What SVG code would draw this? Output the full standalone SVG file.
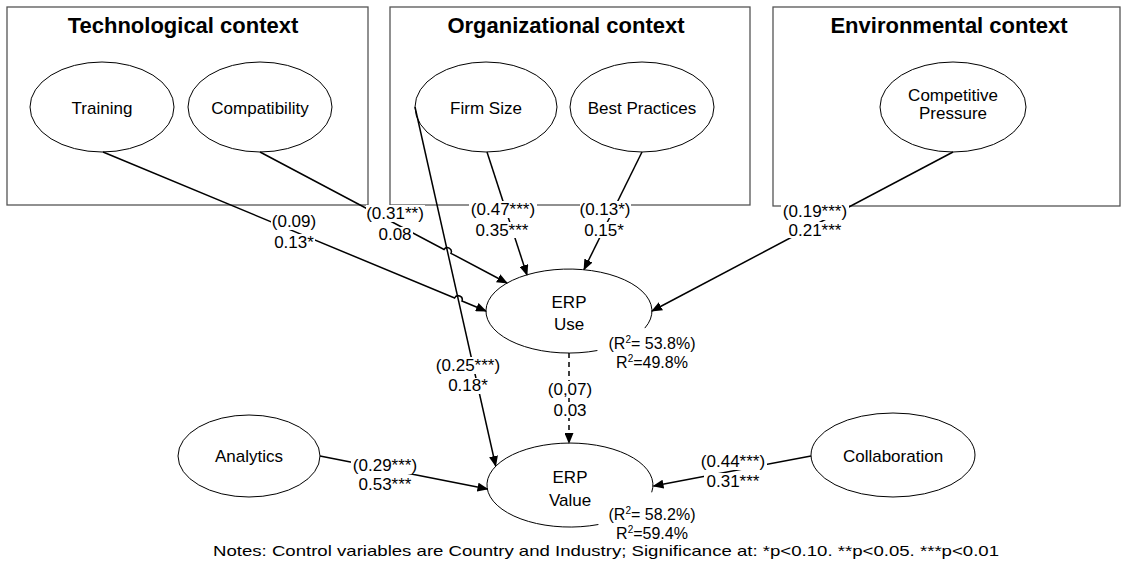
<svg xmlns="http://www.w3.org/2000/svg" width="1126" height="567" viewBox="0 0 1126 567">
  <style>
    .ctx { fill: #ffffff; stroke: #555555; stroke-width: 1.3; }
    .title { font-family: "Liberation Sans", Arial, sans-serif; font-size: 22px; font-weight: bold; text-anchor: middle; fill: #000; }
    .node { fill: #ffffff; stroke: #000000; stroke-width: 1; }
    .lbl { font-family: "Liberation Sans", Arial, sans-serif; font-size: 17px; text-anchor: middle; fill: #000; }
    .coef { font-family: "Liberation Sans", Arial, sans-serif; font-size: 17px; text-anchor: middle; fill: #000; }
    .r2 { font-family: "Liberation Sans", Arial, sans-serif; font-size: 16px; text-anchor: middle; fill: #000; }
    .note { font-family: "Liberation Sans", Arial, sans-serif; font-size: 15px; fill: #000; }
    .edge { fill: none; stroke: #000000; stroke-width: 1.5; }
    .dash { stroke-dasharray: 5 4; }
    .bg { fill: #ffffff; }
  </style>
  <defs>
    <marker id="arrow" markerUnits="userSpaceOnUse" markerWidth="11" markerHeight="9" refX="10" refY="4.5" orient="auto">
      <path d="M0,0 L11,4.5 L0,9 z" fill="#000000"/>
    </marker>
  </defs>

  <!-- context frames -->
  <g id="tech-context">
    <rect class="ctx" x="7" y="7" width="361" height="198"/>
    <text class="title" x="183" y="33">Technological context</text>
  </g>
  <g id="org-context">
    <rect class="ctx" x="390" y="7" width="360" height="198"/>
    <text class="title" x="566" y="33">Organizational context</text>
  </g>
  <g id="env-context">
    <rect class="ctx" x="773" y="7" width="347" height="199"/>
    <text class="title" x="949" y="33">Environmental context</text>
  </g>

  <!-- construct nodes -->
  <g id="training">
    <ellipse class="node" cx="102" cy="107" rx="72" ry="45"/>
    <text class="lbl" x="102" y="114">Training</text>
  </g>
  <g id="compatibility">
    <ellipse class="node" cx="260" cy="107" rx="72" ry="45"/>
    <text class="lbl" x="260" y="114">Compatibility</text>
  </g>
  <g id="firm-size">
    <ellipse class="node" cx="486" cy="107" rx="71" ry="45"/>
    <text class="lbl" x="486" y="114">Firm Size</text>
  </g>
  <g id="best-practices">
    <ellipse class="node" cx="642" cy="107" rx="72" ry="45"/>
    <text class="lbl" x="642" y="114">Best Practices</text>
  </g>
  <g id="competitive-pressure">
    <ellipse class="node" cx="953" cy="107" rx="73" ry="45"/>
    <text class="lbl" x="953" y="101">Competitive</text>
    <text class="lbl" x="953" y="119">Pressure</text>
  </g>
  <g id="analytics">
    <ellipse class="node" cx="249" cy="456" rx="71" ry="41"/>
    <text class="lbl" x="249" y="462">Analytics</text>
  </g>
  <g id="collaboration">
    <ellipse class="node" cx="893" cy="455" rx="82" ry="42"/>
    <text class="lbl" x="893" y="462">Collaboration</text>
  </g>
  <g id="erp-use">
    <path class="node" d="M597.4,350.5 A83,42 0 1 1 644.8,328.1"/>
    <text class="lbl" x="569" y="308">ERP</text>
    <text class="lbl" x="569" y="330">Use</text>
  </g>
  <g id="erp-value">
    <path class="node" d="M598.4,524.5 A83,42 0 1 1 651.7,492.3"/>
    <text class="lbl" x="570" y="483">ERP</text>
    <text class="lbl" x="570" y="506">Value</text>
  </g>

  <!-- paths between constructs -->
  <g id="connectors">
    <path class="edge" d="M103,152 L454.6,298 A4,4 0 0 1 462,301 L486,311" marker-end="url(#arrow)"/>
    <path class="edge" d="M260,152 L444,249.5 A4,4 0 0 1 451,253.3 L507,283" marker-end="url(#arrow)"/>
    <path class="edge" d="M487,152 L527,275" marker-end="url(#arrow)"/>
    <path class="edge" d="M642,152 L584,269.5" marker-end="url(#arrow)"/>
    <path class="edge" d="M953,152 L652,311" marker-end="url(#arrow)"/>
    <path class="edge" d="M415,107 L495.7,466" marker-end="url(#arrow)"/>
    <path class="edge dash" d="M569,353 L569,443" marker-end="url(#arrow)"/>
    <path class="edge" d="M320,456 L487.5,489" marker-end="url(#arrow)"/>
    <path class="edge" d="M811,456 L653.5,486" marker-end="url(#arrow)"/>
  </g>

  <!-- path coefficients -->
  <g id="coefficients">
    <rect class="bg" x="271" y="214" width="46" height="16"/>
    <rect class="bg" x="273" y="234" width="42" height="16"/>
    <text class="coef" x="294" y="227">(0.09)</text>
    <text class="coef" x="294" y="248">0.13*</text>

    <rect class="bg" x="366" y="205" width="59" height="17"/>
    <rect class="bg" x="377" y="227" width="36" height="16"/>
    <text class="coef" x="395" y="219">(0.31**)</text>
    <text class="coef" x="395" y="240">0.08</text>

    <rect class="bg" x="469" y="201" width="68" height="17"/>
    <rect class="bg" x="474" y="222" width="57" height="16"/>
    <text class="coef" x="503" y="215">(0.47***)</text>
    <text class="coef" x="502" y="236">0.35***</text>

    <rect class="bg" x="580" y="201" width="51" height="17"/>
    <rect class="bg" x="584" y="222" width="41" height="16"/>
    <text class="coef" x="605" y="215">(0.13*)</text>
    <text class="coef" x="604" y="236">0.15*</text>

    <rect class="bg" x="781" y="203" width="68" height="17"/>
    <rect class="bg" x="786" y="222" width="58" height="16"/>
    <text class="coef" x="815" y="217">(0.19***)</text>
    <text class="coef" x="815" y="236">0.21***</text>

    <rect class="bg" x="434" y="357" width="68" height="17"/>
    <rect class="bg" x="447" y="378" width="42" height="16"/>
    <text class="coef" x="468" y="371">(0.25***)</text>
    <text class="coef" x="468" y="391">0.18*</text>

    <rect class="bg" x="546" y="381" width="48" height="17"/>
    <rect class="bg" x="551" y="402" width="38" height="16"/>
    <text class="coef" x="570" y="395">(0,07)</text>
    <text class="coef" x="570" y="416">0.03</text>

    <rect class="bg" x="351" y="457" width="68" height="17"/>
    <rect class="bg" x="356" y="477" width="58" height="16"/>
    <text class="coef" x="385" y="471">(0.29***)</text>
    <text class="coef" x="385" y="490">0.53***</text>

    <rect class="bg" x="699" y="453" width="68" height="17"/>
    <rect class="bg" x="704" y="473" width="58" height="16"/>
    <text class="coef" x="733" y="467">(0.44***)</text>
    <text class="coef" x="733" y="487">0.31***</text>
  </g>

  <!-- explained variance -->
  <g id="r-squared">
    <text class="r2" x="652" y="349">(R<tspan dy="-6" font-size="10">2</tspan><tspan dy="6">= 53.8%)</tspan></text>
    <text class="r2" x="652" y="368">R<tspan dy="-6" font-size="10">2</tspan><tspan dy="6">=49.8%</tspan></text>
    <text class="r2" x="652" y="520">(R<tspan dy="-6" font-size="10">2</tspan><tspan dy="6">= 58.2%)</tspan></text>
    <text class="r2" x="652" y="539">R<tspan dy="-6" font-size="10">2</tspan><tspan dy="6">=59.4%</tspan></text>
  </g>

  <g id="notes">
    <text class="note" x="213" y="556" textLength="786" lengthAdjust="spacingAndGlyphs">Notes: Control variables are Country and Industry; Significance at: *p&lt;0.10. **p&lt;0.05. ***p&lt;0.01</text>
  </g>
</svg>
